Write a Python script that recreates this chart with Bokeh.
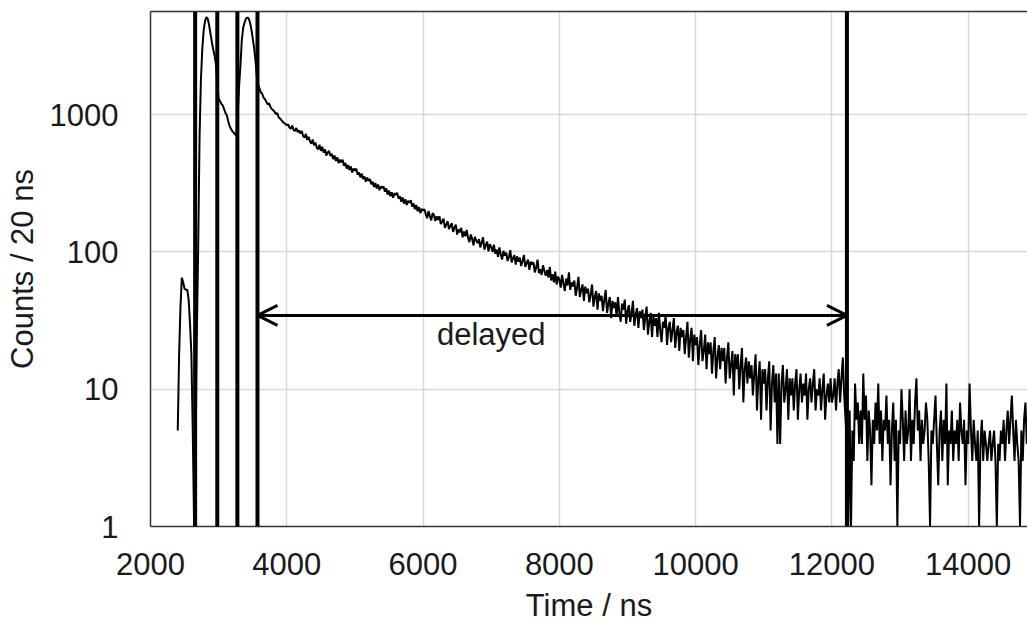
from bokeh.plotting import figure
from bokeh.models import (FixedTicker, PrintfTickFormatter, Span, Arrow, OpenHead,
                          Label, LinearAxis, Range1d, ColumnDataSource)
from bokeh.embed import file_html
from bokeh.resources import INLINE

# ---------------- data ----------------
bin_ns = 20

early_start = 2400
early_counts = [
    5, 18, 40, 65, 60, 54, 53, 53, 45, 30,
    18, 5, 1, 3, 25, 110, 700, 1800, 3000, 4100,
    4800, 5150, 5000, 4500, 3900, 3400, 3000, 2700, 2350, 1700,
    1300, 1260, 1200, 1170, 1100, 1030, 990, 900, 830, 790,
    760, 740, 720, 700, 1000, 1600, 2300, 3500, 4300, 4700,
    5000, 5100, 5050, 4700, 4200, 3600, 3100, 2500, 1900,
]

decay_start = 3580
decay_counts = [
    1650, 1550, 1450, 1420, 1330, 1300, 1240, 1190, 1210, 1140, 1100, 1080,
    1050, 1010, 1030, 960, 940, 915, 890, 870, 855, 840,
    850, 805, 790, 835, 775, 760, 800, 745, 770, 730,
    760, 700, 680, 725, 655, 690, 640, 615, 660, 600,
    625, 575, 560, 605, 545, 585, 530, 560, 505, 530,
    545, 500, 520, 475, 505, 460, 490, 445, 470, 450,
    470, 425, 445, 405, 430, 395, 420, 380, 405, 390,
    405, 365, 380, 350, 372, 340, 355, 325, 348, 330,
    340, 312, 325, 298, 318, 290, 310, 282, 300, 292,
    300, 275, 290, 262, 280, 255, 272, 248, 268, 260,
    270, 245, 255, 232, 250, 225, 242, 220, 236, 228,
    238, 214, 226, 205, 220, 198, 212, 192, 206, 200,
    205, 188, 176, 199, 183, 170, 192, 186, 168, 182,
    171, 182, 160, 166, 175, 150, 158, 168, 147, 155,
    162, 140, 151, 158, 134, 146, 139, 150, 128, 141,
    130, 145, 127, 118, 134, 125, 112, 129, 121, 116,
    124, 108, 117, 128, 104, 112, 119, 101, 114, 109,
    100, 113, 97, 104, 92, 108, 96, 88, 102, 94,
    99, 86, 92, 103, 84, 90, 95, 81, 93, 85,
    91, 79, 86, 95, 78, 83, 88, 74, 85, 81,
    84, 71, 77, 88, 70, 75, 68, 80, 73, 67,
    74, 65, 78, 62, 69, 60, 72, 58, 66, 63,
    55, 68, 59, 52, 64, 57, 71, 53, 60, 56,
    62, 48, 55, 66, 47, 53, 58, 44, 56, 50,
    54, 43, 49, 58, 40, 47, 52, 38, 50, 44,
    48, 37, 45, 53, 36, 42, 47, 33, 44, 39,
    43, 34, 47, 36, 31, 42, 38, 45, 30, 37,
    41, 31, 36, 44, 29, 35, 39, 28, 37, 33,
    38, 27, 33, 40, 25, 31, 36, 24, 34, 29,
    33, 24, 36, 27, 22, 31, 28, 35, 21, 28,
    31, 22, 27, 33, 20, 26, 29, 19, 28, 24,
    27, 18, 24, 31, 17, 23, 28, 16, 25, 21,
    24, 15, 21, 27, 16, 19, 25, 14, 22, 18,
    22, 13, 19, 24, 12, 17, 21, 14, 20, 16,
    20, 11, 17, 22, 12, 15, 19, 9, 18, 14,
    18, 10, 15, 20, 8, 14, 17, 11, 16, 12,
    15, 9, 13, 18, 7, 12, 16, 6, 14, 11,
    14, 7, 12, 16, 5, 11, 15, 8, 13, 4,
    13, 4, 11, 15, 8, 10, 14, 6, 12, 9,
    12, 7, 11, 14, 6, 10, 13, 8, 11, 9,
    13, 6, 10, 12, 8, 11, 14, 7, 10, 9,
    12, 7, 10, 13, 6, 9, 11, 8, 12, 8,
    9, 12, 7, 11, 14, 8, 12, 17, 9, 6,
    4,
]

tail_start = 12240
tail_counts = [
    1, 7, 1, 5, 3, 11, 6, 8, 4, 7,
    4, 13, 6, 9, 3, 7, 5, 2, 6, 4,
    8, 5, 11, 4, 7, 3, 6, 5, 9, 4,
    6, 2, 5, 8, 3, 6, 1, 5, 4, 10,
    6, 3, 7, 4, 5, 10, 3, 6, 4, 8,
    12, 5, 7, 3, 6, 4, 5, 8, 6, 3,
    1, 5, 4, 6, 9, 4, 2, 5, 7, 3,
    6, 4, 11, 2, 5, 4, 7, 3, 5, 4,
    6, 3, 8, 5, 4, 6, 2, 5, 4, 11,
    5, 3, 6, 4, 3, 5, 1, 4, 6, 3,
    5, 4, 3, 4, 5, 3, 4, 5, 3, 1,
    4, 3, 5, 4, 6, 3, 5, 7, 4, 6,
    9, 5, 3, 6, 4, 3, 1, 5, 3, 6,
    8, 4,
]

gate_times = [2655, 2980, 3275, 3570, 12220]
arrow_from, arrow_to, arrow_level = 3570, 12220, 34.5
label_text, label_x, label_y = "delayed", 7000, 25

x_ticks = [2000, 4000, 6000, 8000, 10000, 12000, 14000]
y_ticks = [1, 10, 100, 1000]

# ---------------- build series ----------------
times, counts = [], []
for start, vals in ((early_start, early_counts), (decay_start, decay_counts), (tail_start, tail_counts)):
    for i, v in enumerate(vals):
        times.append(start + bin_ns * i)
        counts.append(v)
src = ColumnDataSource(dict(t=times, c=counts))

FONT = "Liberation Sans"
TXT = "#1a1a1a"
FS = "31px"

p = figure(width=1027, height=625, y_axis_type="log",
           x_range=Range1d(2000, 14870), y_range=Range1d(1, 5650),
           output_backend="svg", toolbar_location=None,
           min_border_left=150, min_border_right=0, min_border_top=11, min_border_bottom=97)
p.outline_line_color = None
p.background_fill_color = "white"
p.border_fill_color = "white"

p.line("t", "c", source=src, line_color="black", line_width=2)

for g in gate_times:
    p.add_layout(Span(location=g, dimension="height", line_color="black", line_width=4))

p.add_layout(Arrow(start=OpenHead(size=20, line_width=3, line_color="black"),
                   end=OpenHead(size=20, line_width=3, line_color="black"),
                   x_start=arrow_from, x_end=arrow_to, y_start=arrow_level, y_end=arrow_level,
                   line_width=3, line_color="black"))
p.add_layout(Label(x=label_x, y=label_y, text=label_text, text_align="center",
                   text_baseline="middle", text_font=FONT, text_font_size=FS, text_color=TXT))

# axes
for ax in (p.xaxis[0], p.yaxis[0]):
    ax.axis_line_color = "#333333"
    ax.axis_line_width = 1.5
    ax.major_tick_line_color = None
    ax.minor_tick_line_color = None
    ax.major_label_text_font = FONT
    ax.major_label_text_font_size = FS
    ax.major_label_text_color = TXT
    ax.axis_label_text_font = FONT
    ax.axis_label_text_font_size = FS
    ax.axis_label_text_font_style = "normal"
    ax.axis_label_text_color = TXT

p.xaxis.ticker = FixedTicker(ticks=x_ticks)
p.yaxis.ticker = FixedTicker(ticks=y_ticks)
p.yaxis.formatter = PrintfTickFormatter(format="%d")
p.xaxis.axis_label = "Time / ns"
p.yaxis.axis_label = "Counts / 20 ns"
p.xaxis.major_label_standoff = 20
p.yaxis.major_label_standoff = 26
p.xaxis.axis_label_standoff = 10
p.yaxis.axis_label_standoff = 7

top = LinearAxis(ticker=FixedTicker(ticks=[]), axis_line_color="#333333", axis_line_width=1.5,
                 major_tick_line_color=None, minor_tick_line_color=None,
                 major_label_text_font_size="0px")
p.add_layout(top, "above")

p.xgrid.ticker = FixedTicker(ticks=x_ticks)
p.ygrid.ticker = FixedTicker(ticks=y_ticks)
p.xgrid.grid_line_color = "#d9d9d9"
p.ygrid.grid_line_color = "#d9d9d9"
p.xgrid.grid_line_width = 1.5
p.ygrid.grid_line_width = 1.5

open("out.html", "w").write(file_html(p, INLINE))
